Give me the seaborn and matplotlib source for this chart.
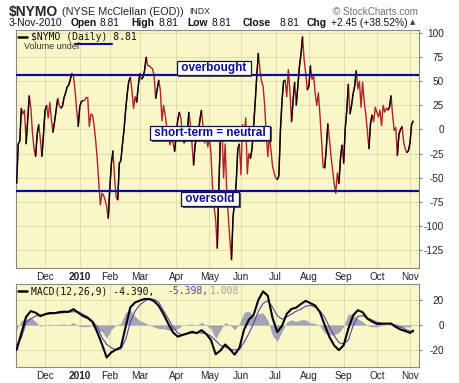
import numpy as np
import pandas as pd
import matplotlib
matplotlib.use("Agg")
import matplotlib.pyplot as plt
import matplotlib.patheffects as pe
from matplotlib.collections import LineCollection
import seaborn as sns

# trading days Nov 4 2009 .. Nov 3 2010
holidays = ["2009-11-26", "2009-12-25", "2010-01-01", "2010-01-18", "2010-02-15",
            "2010-04-02", "2010-05-31", "2010-07-05", "2010-09-06"]
dates = pd.bdate_range("2009-11-04", "2010-11-03")
dates = dates[~dates.isin(pd.to_datetime(holidays))]

nymo = [
    -56, -15, -12, 22, 16, 20, -15, 10, 35, 22,
    -3, -20, -28, -5, 5, -10, -28, -5, 20, 25,
    12, 28, 10, -3, 8, 20, 32, 25, 22, 24,
    33, 38, 44, 46, 52, 58, 55, 40, 20, 3,
    24, 29, 30, 30,
    33, 33, 3, 16, 15, 5, -11, -30, -55, -78,
    -66, -68, -73, -80, -92, -60, -35, -22, -50, -70,
    -73, -35, -32, -15, 0, 20, 37, 50, 54, 40,
    22, 34, 28, 45, 58, 52, 54, 61, 75, 66,
    66, 64, 63, 56, 32, 42, 51, 40, 9, 25,
    15, 3, -5, -16, -9, -14, -23, -5, 10, 18,
    12, -10, -14, -8, -5, 18, 5, -15, -37, -15,
    -10, -5, 10, 20, 3, -14, -8, -18, -8, -25,
    -60, -80, -94, -123,
    -60, -5, 3, -50, -15, -65, -90, -115, -135, -90,
    -75, -55, -20, -15, -47, 5, -10, 12, -46, -25,
    -30, -20, 3, 28, 55, 79, 62, 50, 45, 25,
    -5, -28, -5, -22, -38, -45, -50, -52, -48, 0,
    30, 50, 51, 34,
    62, 40, 8, 30, 49, 25, 45, 65, 78, 96,
    72, 58, 41, 45, 66, 52, 55, 37, 25, 38,
    15, -11, -39, -40, -20, 6, -10, -28, -42, -56,
    -66, -45, -56, -30, -16, -35, 1, 20, 47, 16,
    25, 37, 45, 61,
    42, 50, 23, 49, 29, 16, -1, -20, 6, 15,
    8, 23, 18, 13, 20, 4, 25, 18, 22, 20,
    23, 35, 15, -1, 2, -27, -5, 0, 3, -13,
    -20, -24, -22, -14, 5, 8.81,
]

# MACD read every 3rd trading day
macd_days = list(range(0, 250, 3)) + [251]
macd = [
    -19.5, -6.3, 6.5, 11, 9.7, 7, 8.5, 9.5, 9.3, 10.2,
    10.5, 10.5, 12.5, 9.7, 7.1, 5.5, 2.5, -5.5, -15, -25.5,
    -21.4, -19.3, -17.4, -1.3, 14, 17.8, 19.3, 20.5, 20.5, 18.8,
    15, 8.5, 1, -5.8, -9.1, -7.8, -6.6, -5.3, -6.4, -4,
    -7, -11.7, -23, -20, -15.3, -19, -23.3, -18, -3.5, 4.2,
    8, 19.7, 26.5, 23, 5.5, -5.5, -0.5, 8.8, 12.7, 13.7,
    16.6, 19, 17.2, 15.3, 10.2, 0, -9.4, -16, -19.7, -15.9,
    -2.8, 7.6, 11.7, 10.1, 5.1, 2.7, 0.9, 1, 1.1, 1.2,
    -1.5, -3.5, -4.7, -6.2, -4.39,
]
signal = [
    -16, -10, 2, 5, 7, 8, 8.4, 8.8, 9.2, 9.5,
    9.7, 10.2, 10.5, 10.5, 8.5, 6.6, 3, -1.2, -9.9, -15.2,
    -18, -19.4, -18.8, -11.4, 2.5, 11, 15.9, 18.7, 20.5, 20.3,
    17.8, 11.3, 4.9, -1.8, -6.2, -7.9, -6.9, -6.3, -5.8, -6.2,
    -6.8, -8.7, -12.3, -16, -17.2, -18.9, -19.7, -19.1, -13.5, -6.7,
    1.3, 10.7, 17, 19.2, 14, 7.4, 4.6, 6.4, 8.6, 10.9,
    12.5, 14.9, 15.5, 14.1, 10.9, 6.3, -1.6, -8.3, -13.8, -14.9,
    -11.7, -0.4, 6.8, 7.4, 5.6, 4, 2.3, 1.5, 1.3, 0.9,
    -0.1, -1.4, -3.3, -4.7, -5.398,
]

overbought = 56
oversold = -64

W, H = 460, 383
bg = "#f9f7c8"
grid_c = "#dcd9b0"
red = "#b0222c"
navy = "#0c0c96"

sns.set_theme(style="ticks")
plt.rcParams["font.family"] = ["Liberation Sans", "DejaVu Sans"]
plt.rcParams["axes.unicode_minus"] = False

fig = plt.figure(figsize=(W / 100, H / 100), dpi=100)
fig.patch.set_facecolor("white")


def fx(x):
    return x / W


def fy(y):
    return 1 - y / H


ax = fig.add_axes([fx(16), fy(268), 403 / W, 238 / H])
ax2 = fig.add_axes([fx(16), fy(367), 403 / W, 83 / H])

# main NYMO line: red, black on rising runs
df = pd.DataFrame({"day": np.arange(len(nymo)), "nymo": nymo})
sns.lineplot(data=df, x="day", y="nymo", ax=ax, color=red, lw=1.0)
v = df["nymo"].to_numpy()
up = np.diff(v) > 0
run = up & (np.r_[False, up[:-1]] | np.r_[up[1:], False])
segs = [[(i, v[i]), (i + 1, v[i + 1])] for i in np.where(run)[0]]
ax.add_collection(LineCollection(segs, colors="black", linewidths=1.0, zorder=3))

ax.axhline(overbought, color=navy, lw=1.6, zorder=4)
ax.axhline(oversold, color=navy, lw=1.6, zorder=4)

for txt, xd, yd in [("overbought", 124.7, 63.7),
                    ("short-term = neutral", 122.5, -3.6),
                    ("oversold", 122.5, -71.9)]:
    t = ax.text(xd, yd, " " + txt + " ", ha="center", va="center", color=navy,
                fontsize=8.5, fontweight="bold", zorder=6,
                bbox=dict(boxstyle="square,pad=0.1", fc="white", ec="#101050", lw=0.9))
    t.get_bbox_patch().set_path_effects([pe.withSimplePatchShadow(offset=(1.2, -1.2),
                                                                  shadow_rgbFace="#303030",
                                                                  alpha=0.8)])

# MACD panel
mdf = pd.DataFrame({"day": macd_days, "macd": macd, "signal": signal})
mdf["hist"] = mdf["macd"] - mdf["signal"]
ax2.fill_between(mdf["day"], 0, mdf["hist"], color="#a3a3b6", lw=0, zorder=2)
sns.lineplot(data=mdf, x="day", y="signal", ax=ax2, color="#4a46a8", lw=0.8, zorder=3)
sns.lineplot(data=mdf, x="day", y="macd", ax=ax2, color="black", lw=1.5, zorder=4)

# month ticks
month_idx = [i for i in range(1, len(dates)) if dates[i].month != dates[i - 1].month]
month_lab = ["2010" if dates[i].month == 1 else dates[i].strftime("%b") for i in month_idx]

for a, lim, ticks in [(ax, (-143.4, 103), np.arange(-125, 101, 25)),
                      (ax2, (-33, 32.3), [-20, 0, 20])]:
    a.set_facecolor(bg)
    a.set_axisbelow(True)
    a.grid(True, color=grid_c, lw=0.6)
    a.set_xlim(-0.4, 254.7)
    a.set_ylim(*lim)
    a.set_yticks(ticks)
    a.set_xticks(month_idx, month_lab)
    a.yaxis.tick_right()
    a.tick_params(axis="y", length=2.5, width=0.6, color="#555555", pad=15.5,
                  labelsize=7.2, labelcolor="#222222")
    a.tick_params(axis="x", length=0, pad=3, labelsize=7.2, labelcolor="#222222")
    plt.setp(a.get_yticklabels(), ha="right")
    for lab in a.get_xticklabels():
        if lab.get_text() == "2010":
            lab.set_fontweight("bold")
    a.set_xlabel("")
    a.set_ylabel("")
    for s in a.spines.values():
        s.set_visible(True)
        s.set_color("#8a8a8a")
        s.set_linewidth(0.8)

# header
fig.text(fx(9), fy(12), "$NYMO", fontsize=10, fontweight="bold", va="center")
fig.text(fx(62), fy(12), "(NYSE McClellan (EOD))", fontsize=7.8, va="center", color="#222222")
fig.text(fx(189), fy(12), "INDX", fontsize=6.3, va="center", color="#222222")
fig.text(fx(333), fy(12), "\u00a9 StockCharts.com", fontsize=7.1, va="center", color="#707070")

row2 = [(9, "3-Nov-2010", "normal"), (71, "Open", "bold"), (100, "8.81", "normal"),
        (131, "High", "bold"), (159, "8.81", "normal"), (187, "Low", "bold"),
        (212, "8.81", "normal"), (243, "Close", "bold"), (279, "8.81", "normal"),
        (307, "Chg", "bold"), (331, "+2.45 (+38.52%)", "normal")]
for xp, s, w in row2:
    fig.text(fx(xp), fy(23), s, fontsize=7.4, fontweight=w, va="center", color="#111111")
fig.text(fx(410), fy(22.5), "\u25b2", fontsize=5, va="center", color="#404040",
         family=["DejaVu Sans"])

# legends
fig.add_artist(plt.Line2D([fx(18), fx(27)], [fy(37), fy(37)], color="black", lw=1.8))
fig.text(fx(31), fy(37), "$NYMO (Daily) 8.81", fontsize=7, va="center",
         family=["DejaVu Sans Mono"], color="#111111")
fig.text(fx(24), fy(46.5), "Volume undef", fontsize=6.5, va="center", color="#333333")
fig.add_artist(plt.Line2D([fx(75), fx(112)], [fy(43.5), fy(43.5)], color=navy, lw=1.5))

fig.add_artist(plt.Line2D([fx(18), fx(27)], [fy(291), fy(291)], color="black", lw=1.8))
fig.text(fx(31), fy(291), "MACD(12,26,9) -4.390,", fontsize=7, va="center",
         family=["DejaVu Sans Mono"], color="#111111")
fig.text(fx(167), fy(291), "-5.398,", fontsize=7, va="center",
         family=["DejaVu Sans Mono"], color="#4a46a8")
fig.text(fx(210), fy(291), "1.008", fontsize=7, va="center",
         family=["DejaVu Sans Mono"], color="#a0a0a0")

fig.savefig("out.png", dpi=100)
